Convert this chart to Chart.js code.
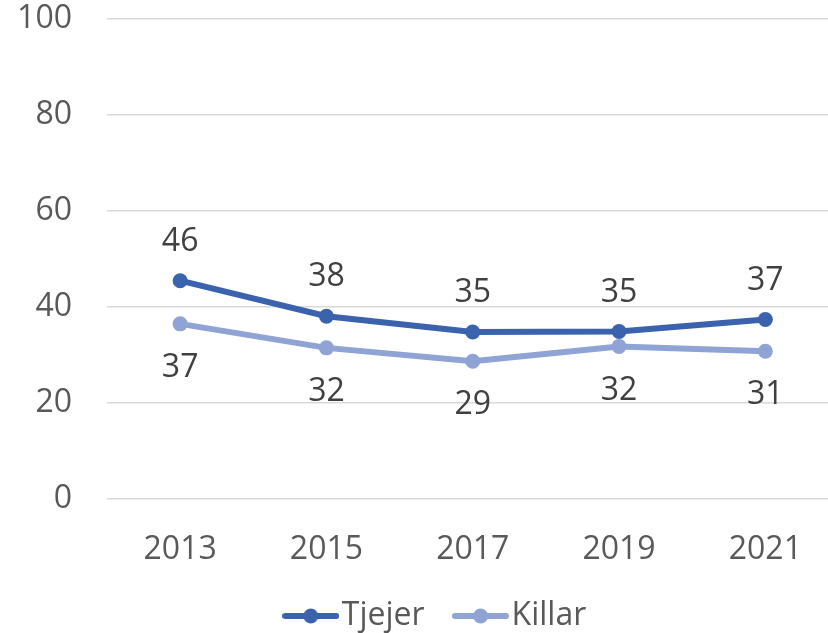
<!DOCTYPE html>
<html>
<head>
<meta charset="utf-8">
<script src="https://cdn.jsdelivr.net/npm/chart.js@4"></script>
<style>
html,body{margin:0;padding:0;background:#fff;overflow:hidden;}
#wrap{position:absolute;left:0;top:0;width:846px;height:633px;}
</style>
</head>
<body>
<div id="wrap"><canvas id="c" width="846" height="633"></canvas></div>
<script>
const categories = ['2013','2015','2017','2019','2021'];
const tjejer = [45.5, 38.1, 34.8, 34.9, 37.4];
const killar = [36.5, 31.5, 28.7, 31.8, 30.8];
const seriesNames = ['Tjejer','Killar'];
const colors = ['#3B62AC','#8FA3D5'];
const FONT = "'Open Sans', sans-serif";

function legendIcon(color){
  const c = document.createElement('canvas');
  c.width = 57; c.height = 16;
  const g = c.getContext('2d');
  g.strokeStyle = color; g.lineWidth = 6; g.lineCap = 'round';
  g.beginPath(); g.moveTo(3,8); g.lineTo(54,8); g.stroke();
  g.fillStyle = color;
  g.beginPath(); g.arc(28.5,8,7.5,0,Math.PI*2); g.fill();
  return c;
}
const icons = colors.map(legendIcon);

const dataLabels = {
  id:'dataLabels',
  afterDatasetsDraw(chart){
    const ctx = chart.ctx;
    ctx.save();
    ctx.font = "32px " + FONT;
    ctx.fillStyle = '#404040';
    ctx.textAlign = 'center';
    ctx.textBaseline = 'middle';
    chart.data.datasets.forEach((ds,i)=>{
      const meta = chart.getDatasetMeta(i);
      meta.data.forEach((pt,j)=>{
        const off = i===0 ? -39 : 44;
        ctx.fillText(String(Math.round(ds.data[j])), pt.x, pt.y + off);
      });
    });
    ctx.restore();
  }
};

const layoutTweak = {
  id:'layoutTweak',
  afterLayout(chart){
    const lg = chart.legend;
    if(lg){
      lg.left += 19; lg.right += 19;
      lg.top += 9; lg.bottom += 9;
    }
    const xs = chart.scales.x;
    if(xs){ xs.bottom += 40; }
  }
};

new Chart(document.getElementById('c'), {
  type:'line',
  data:{
    labels: categories,
    datasets:[
      {label:seriesNames[0], data:tjejer, borderColor:colors[0], backgroundColor:colors[0], borderWidth:6, pointRadius:7.5, pointBackgroundColor:colors[0], pointBorderWidth:0, tension:0},
      {label:seriesNames[1], data:killar, borderColor:colors[1], backgroundColor:colors[1], borderWidth:6, pointRadius:7.5, pointBackgroundColor:colors[1], pointBorderWidth:0, tension:0}
    ]
  },
  options:{
    responsive:false,
    animation:false,
    devicePixelRatio:1,
    layout:{padding:{left:0, top:19, right:2, bottom:0}},
    scales:{
      x:{
        offset:true,
        grid:{display:true, color:'rgba(0,0,0,0)', drawTicks:true, tickLength:32, tickColor:'rgba(0,0,0,0)'},
        border:{display:false},
        ticks:{color:'#595959', font:{family:FONT, size:32}, padding:0, maxRotation:0},
        afterFit(s){ s.height = 51; }
      },
      y:{
        min:0, max:100,
        grid:{color:'#D9D9D9', lineWidth:1.5, drawTicks:true, tickLength:35, tickColor:'rgba(0,0,0,0)'},
        border:{display:false},
        ticks:{stepSize:20, color:'#595959', font:{family:FONT, size:32}, padding:0},
        afterFit(s){ s.width = 107; }
      }
    },
    plugins:{
      tooltip:{enabled:false},
      legend:{
        position:'bottom',
        labels:{
          usePointStyle:true,
          pointStyleWidth:30,
          color:'#595959',
          font:{family:FONT, size:32},
          padding:41,
          generateLabels(chart){
            return chart.data.datasets.map((ds,i)=>({
              text: ds.label,
              fillStyle: colors[i],
              strokeStyle: colors[i],
              lineWidth:0,
              pointStyle: icons[i],
              datasetIndex:i,
              hidden:false,
              fontColor:'#595959'
            }));
          }
        }
      }
    }
  },
  plugins:[dataLabels, layoutTweak]
});
</script>
</body>
</html>
